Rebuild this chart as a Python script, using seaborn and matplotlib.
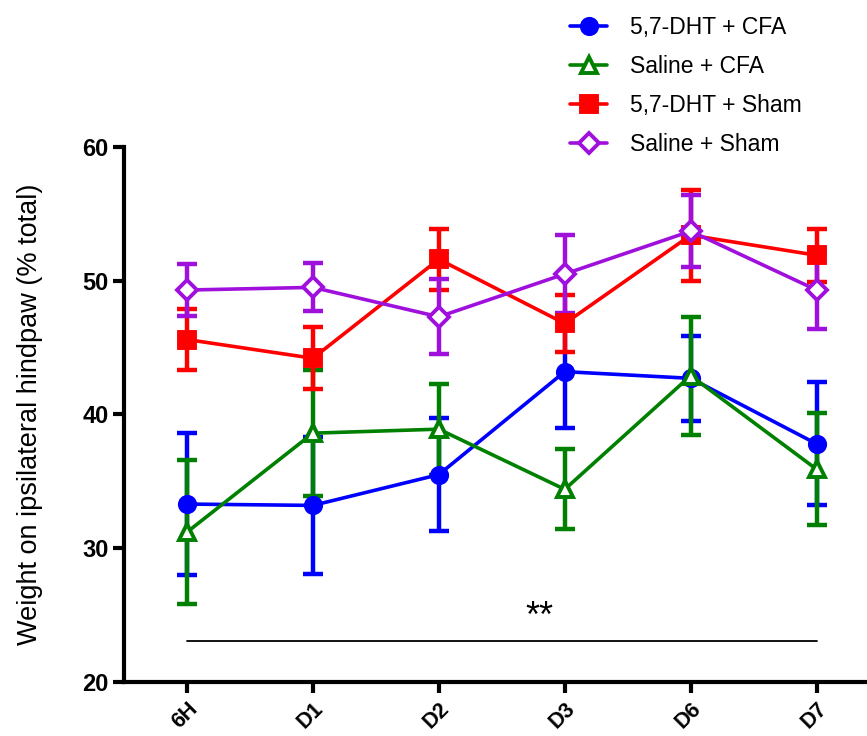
import numpy as np
import pandas as pd
import matplotlib
matplotlib.use('Agg')
import matplotlib.pyplot as plt
import seaborn as sns

# ------------------------------------------------------------------ données
timepoints = ['6H', 'D1', 'D2', 'D3', 'D6', 'D7']
groups = ['5,7-DHT + CFA', 'Saline + CFA', '5,7-DHT + Sham', 'Saline + Sham']

dht_cfa_mean = [33.3, 33.2, 35.5, 43.2, 42.7, 37.8]
dht_cfa_sem = [5.3, 5.1, 4.2, 4.2, 3.2, 4.6]
sal_cfa_mean = [31.2, 38.6, 38.9, 34.4, 42.9, 35.9]
sal_cfa_sem = [5.4, 4.7, 3.4, 3.0, 4.4, 4.2]
dht_sham_mean = [45.6, 44.2, 51.6, 46.8, 53.4, 51.9]
dht_sham_sem = [2.3, 2.3, 2.3, 2.1, 3.4, 2.0]
sal_sham_mean = [49.3, 49.5, 47.3, 50.5, 53.7, 49.3]
sal_sham_sem = [1.95, 1.8, 2.8, 2.9, 2.7, 2.9]

sig_y = 23.1
sig_label = '**'

colors = ['#0000FF', '#008000', '#FF0000', '#A010DC']
markers = ['o', '^', 's', 'D']
filled = [True, False, True, False]

means = [dht_cfa_mean, sal_cfa_mean, dht_sham_mean, sal_sham_mean]
sems = [dht_cfa_sem, sal_cfa_sem, dht_sham_sem, sal_sham_sem]

rows = []
for g, m, s in zip(groups, means, sems):
    for i, t in enumerate(timepoints):
        rows.append({'group': g, 'time': t, 'x': i, 'mean': m[i], 'sem': s[i]})
df = pd.DataFrame(rows)

# ------------------------------------------------------------------ figure
sns.set_style('ticks')
plt.rcParams['font.family'] = ['Liberation Sans', 'DejaVu Sans']
plt.rcParams['text.color'] = 'black'
plt.rcParams['axes.labelcolor'] = 'black'
plt.rcParams['xtick.color'] = 'black'
plt.rcParams['ytick.color'] = 'black'

fig = plt.figure(figsize=(8.67, 7.36), dpi=100)
ax = fig.add_axes([0.143, 0.0734, 0.857, 0.727])

for g, c, mk, fl in zip(groups, colors, markers, filled):
    d = df[df['group'] == g]
    ax.errorbar(d['x'], d['mean'], yerr=d['sem'], fmt='none', ecolor=c,
                elinewidth=3.2, capsize=7, capthick=3.2, zorder=2)
    sns.lineplot(data=d, x='x', y='mean', ax=ax, color=c, linewidth=2.6,
                 marker=mk, markersize=11 if mk != 'D' else 10,
                 markerfacecolor=c if fl else 'white', markeredgecolor=c,
                 markeredgewidth=2.8, label=g, zorder=3, legend=False)

# ligne de significativité
ax.plot([0, 5], [sig_y, sig_y], color='black', linewidth=1.3)
ax.text(2.8, sig_y + 1.7, sig_label, ha='center', va='center', fontsize=26)

ax.set_xlim(-0.5, 5.4)
ax.set_ylim(20, 60)
ax.set_xticks(range(len(timepoints)))
ax.set_xticklabels(timepoints, rotation=45, ha='right', rotation_mode='anchor',
                   fontsize=15.5, fontweight='bold')
ax.set_yticks([20, 30, 40, 50, 60])
ax.set_yticklabels(['20', '30', '40', '50', '60'], fontsize=17, fontweight='bold')
ax.set_xlabel('')
ax.set_ylabel('Weight on ipsilateral hindpaw (% total)', fontsize=19.5, labelpad=28)
ax.tick_params(axis='both', width=3, length=8, color='black')
ax.tick_params(axis='x', pad=4)
ax.tick_params(axis='y', pad=3)
for side in ['top', 'right']:
    ax.spines[side].set_visible(False)
for side in ['left', 'bottom']:
    ax.spines[side].set_linewidth(3)
    ax.spines[side].set_color('black')

handles, labels = ax.get_legend_handles_labels()
fig.legend(handles, labels, loc='upper left', bbox_to_anchor=(0.634, 1.006),
           frameon=False, fontsize=16.5, handlelength=1.6, labelspacing=0.69,
           handletextpad=1.0)

fig.savefig('out.png', dpi=100)
